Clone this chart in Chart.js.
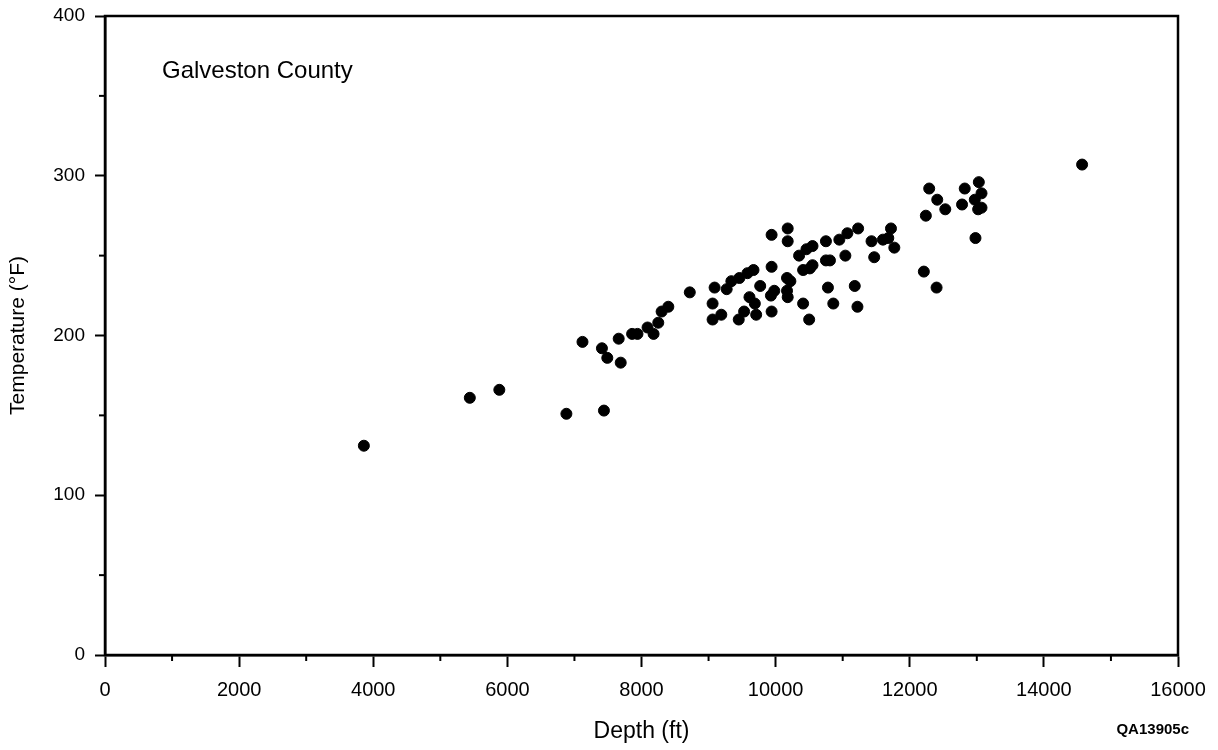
<!DOCTYPE html>
<html>
<head>
<meta charset="utf-8">
<script src="https://cdn.jsdelivr.net/npm/chart.js@4/dist/chart.umd.min.js"></script>
<style>
  html, body { margin: 0; padding: 0; background: #fff; }
  #wrap { width: 1218px; height: 750px; }
</style>
</head>
<body>
<div id="wrap"><canvas id="grafico" width="1218" height="750"></canvas></div>
<script>
// depth (ft) and temperature (°F) for each well
const profundidades = [
  3860, 5440, 5880, 6880, 7440, 7120, 7410, 7490, 7690, 7660,
  7860, 7940, 8090, 8180, 8250, 8300, 8400, 8720, 9060, 9060,
  9190, 9090, 9270, 9340, 9460, 9580, 9670, 9450, 9530, 9610,
  9690, 9710, 9770, 9940, 9930, 9980, 9940, 9940, 10180, 10180,
  10170, 10220, 10170, 10180, 10350, 10460, 10550, 10410, 10510, 10550,
  10410, 10500, 10750, 10750, 10810, 10780, 10860, 10950, 11070, 11230,
  11040, 11180, 11220, 11430, 11720, 11600, 11680, 11770, 11470, 12210,
  12400, 12240, 12290, 12410, 12530, 12820, 12780, 13030, 13070, 12970,
  13070, 13020, 12980, 14570
];
const temperaturas = [
  131, 161, 166, 151, 153, 196, 192, 186, 183, 198,
  201, 201, 205, 201, 208, 215, 218, 227, 220, 210,
  213, 230, 229, 234, 236, 239, 241, 210, 215, 224,
  220, 213, 231, 215, 225, 228, 243, 263, 267, 259,
  236, 234, 228, 224, 250, 254, 256, 241, 242, 244,
  220, 210, 259, 247, 247, 230, 220, 260, 264, 267,
  250, 231, 218, 259, 267, 260, 261, 255, 249, 240,
  230, 275, 292, 285, 279, 292, 282, 296, 289, 285,
  280, 279, 261, 307
];
const ticksMenoresX = [1000, 3000, 5000, 7000, 9000, 11000, 13000, 15000];
const ticksMenoresY = [50, 150, 250, 350];
const rotulo = 'Galveston County';
const tituloX = 'Depth (ft)';
const tituloY = 'Temperature (°F)';
const codigo = 'QA13905c';

const pontos = profundidades.map((d, i) => ({ x: d, y: temperaturas[i] }));
const fonte = '"Liberation Sans", Arial, Helvetica, sans-serif';

// frame, minor ticks and the free labels
const extras = {
  id: 'extras',
  afterDraw(chart) {
    const { ctx, chartArea: a, scales: { x, y } } = chart;
    ctx.save();
    ctx.strokeStyle = '#000';
    ctx.lineWidth = 2.5;
    ctx.strokeRect(a.left, a.top, a.right - a.left, a.bottom - a.top);
    ctx.lineWidth = 2;
    ticksMenoresX.forEach(v => {
      const px = x.getPixelForValue(v);
      ctx.beginPath(); ctx.moveTo(px, a.bottom); ctx.lineTo(px, a.bottom + 6); ctx.stroke();
    });
    ticksMenoresY.forEach(v => {
      const py = y.getPixelForValue(v);
      ctx.beginPath(); ctx.moveTo(a.left - 6, py); ctx.lineTo(a.left, py); ctx.stroke();
    });
    ctx.fillStyle = '#000';
    ctx.textBaseline = 'alphabetic';
    ctx.font = '24px ' + fonte;
    ctx.fillText(rotulo, a.left + 57, a.top + 62);
    ctx.textBaseline = 'middle';
    ctx.font = 'bold 15px ' + fonte;
    ctx.textAlign = 'right';
    ctx.fillText(codigo, 1189, 730);
    ctx.restore();
  }
};

new Chart(document.getElementById('grafico'), {
  type: 'scatter',
  data: {
    datasets: [{
      data: pontos,
      backgroundColor: '#000',
      borderColor: '#000',
      pointRadius: 5.5,
      pointHoverRadius: 5.5
    }]
  },
  options: {
    responsive: false,
    animation: false,
    layout: { padding: { left: 0, top: 16, right: 40, bottom: 0 } },
    plugins: { legend: { display: false }, tooltip: { enabled: false } },
    scales: {
      x: {
        type: 'linear',
        min: 0, max: 16000,
        afterFit: s => { s.height = 95; },
        ticks: { stepSize: 2000, color: '#000', font: { family: fonte, size: 20 }, padding: 11, maxRotation: 0, callback: v => String(v) },
        grid: { drawOnChartArea: false, drawTicks: true, tickLength: 12, tickWidth: 2, color: '#000' },
        border: { display: true, color: '#000', width: 2.5 },
        title: { display: true, text: tituloX, color: '#000', font: { family: fonte, size: 23 }, padding: { top: 0, bottom: 5 } }
      },
      y: {
        type: 'linear',
        min: 0, max: 400,
        afterFit: s => { s.width = 105; },
        ticks: { stepSize: 100, color: '#000', font: { family: fonte, size: 19, lineHeight: 0.6 }, padding: 10, callback: v => String(v) },
        grid: { drawOnChartArea: false, drawTicks: true, tickLength: 10, tickWidth: 2, color: '#000' },
        border: { display: true, color: '#000', width: 2.5 },
        title: { display: true, text: tituloY, color: '#000', font: { family: fonte, size: 21 }, padding: { top: 6, bottom: 0 } }
      }
    }
  },
  plugins: [extras]
});
</script>
</body>
</html>
